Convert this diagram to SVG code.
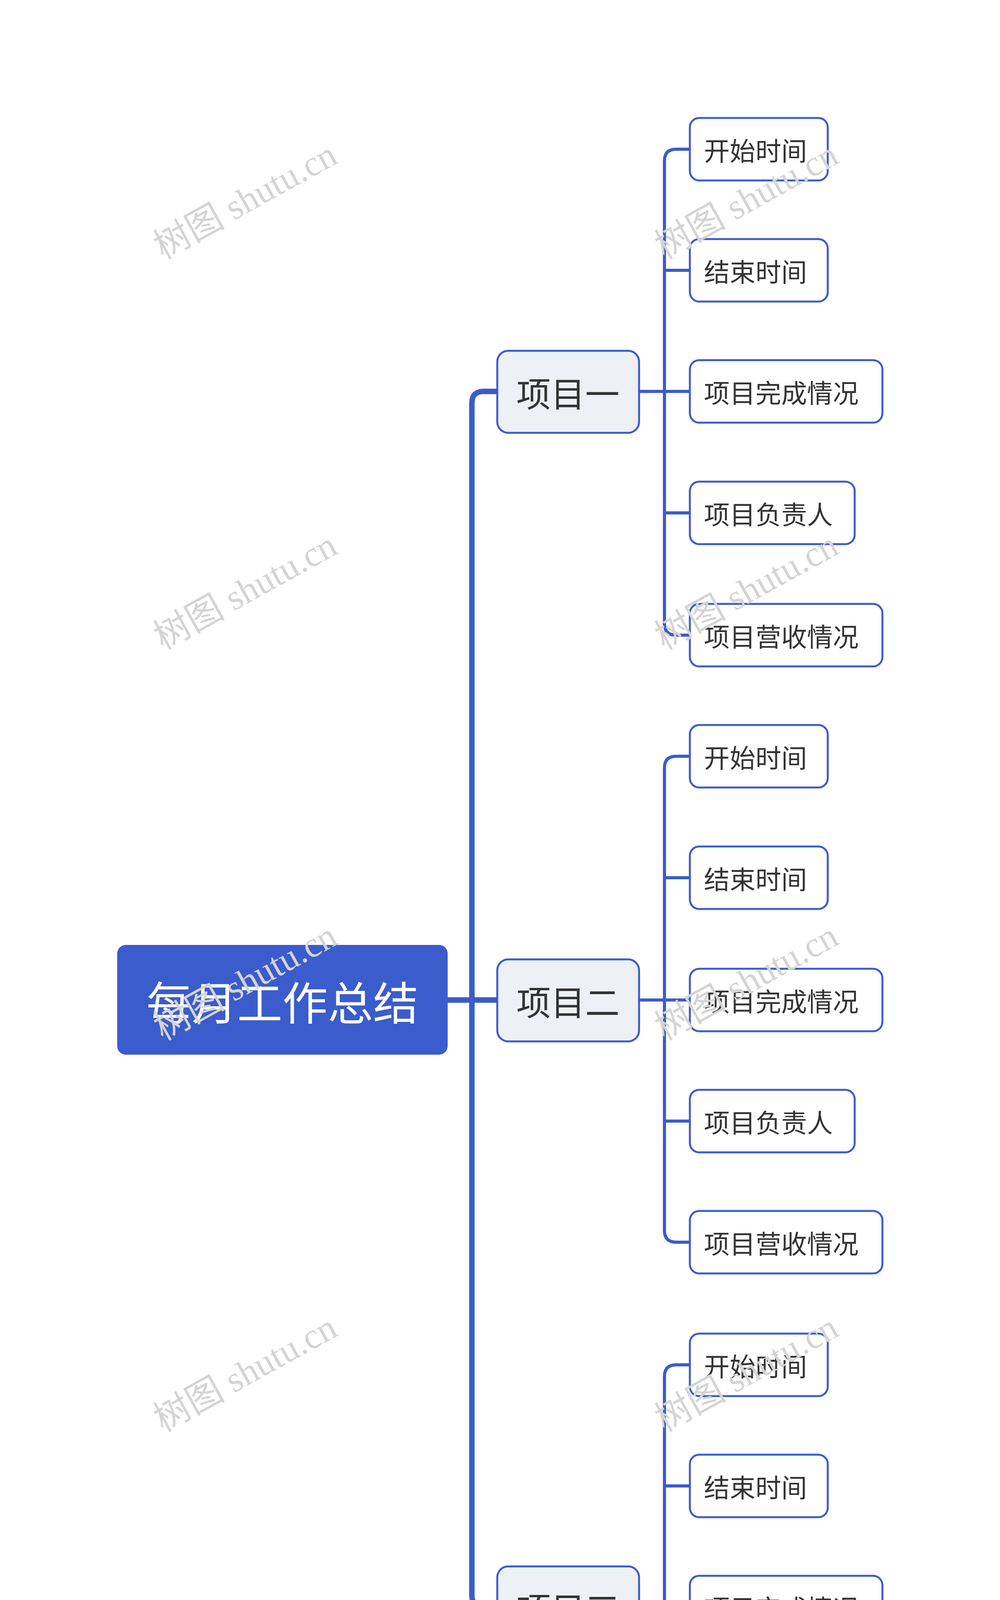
<svg xmlns="http://www.w3.org/2000/svg" width="2560" height="5120" viewBox="0 0 2560 5120">
<style>
.wm{font-family:"Liberation Serif","Noto Sans CJK SC",serif;font-size:92px;fill:#d4d4d4}
.root rect{fill:#3b5ccc}
.root text{font-family:"Noto Sans CJK SC",sans-serif;font-size:116px;fill:#fff;text-anchor:middle;dominant-baseline:central}
.l1 rect{fill:#edf1f5;stroke:#3b5ccc;stroke-width:5}
.l1 text{font-family:"Noto Sans CJK SC",sans-serif;font-size:88px;fill:#333;text-anchor:middle;dominant-baseline:central}
.l2 rect{fill:#fff;stroke:#3b5ccc;stroke-width:5}
.l2 text{font-family:"Noto Sans CJK SC",sans-serif;font-size:66px;fill:#333;dominant-baseline:central}
.c{fill:none;stroke:#3b5ccc;stroke-linecap:round}
</style>
<rect width="2560" height="5120" fill="#fff"/>
<g id="connectors">
<path class="c" stroke-width="14" d="M1146 2560H1273M1273 1002H1238Q1208 1002 1208 1032V4084Q1208 4114 1238 4114H1273"/>
<path class="c" stroke-width="8" d="M1636 1002H1766M1766 382H1731Q1701 382 1701 412V1596Q1701 1626 1731 1626H1766M1701 692H1766M1701 1313H1766"/>
<path class="c" stroke-width="8" d="M1636 2560H1766M1766 1936H1731Q1701 1936 1701 1966V3150Q1701 3180 1731 3180H1766M1701 2247H1766M1701 2870H1766"/>
<path class="c" stroke-width="8" d="M1636 4114H1766M1766 3494H1731Q1701 3494 1701 3524V4708Q1701 4738 1731 4738H1766M1701 3804H1766M1701 4424H1766"/>
</g>
<g id="root" class="root"><rect x="300" y="2419" width="846" height="281" rx="22"/><text x="723" y="2560">每月工作总结</text></g>
<g id="p1" class="l1"><rect x="1273" y="898" width="363" height="210" rx="28"/><text x="1454" y="1002">项目一</text></g>
<g id="p2" class="l1"><rect x="1273" y="2456" width="363" height="210" rx="28"/><text x="1454" y="2560">项目二</text></g>
<g id="p3" class="l1"><rect x="1273" y="4010" width="363" height="210" rx="28"/><text x="1454" y="4114">项目三</text></g>
<g id="p1a" class="l2"><rect x="1766" y="302" width="353" height="160" rx="24"/><text x="1802" y="382">开始时间</text></g>
<g id="p1b" class="l2"><rect x="1766" y="612" width="353" height="160" rx="24"/><text x="1802" y="692">结束时间</text></g>
<g id="p1c" class="l2"><rect x="1766" y="922" width="493" height="160" rx="24"/><text x="1802" y="1002">项目完成情况</text></g>
<g id="p1d" class="l2"><rect x="1766" y="1233" width="422" height="160" rx="24"/><text x="1802" y="1313">项目负责人</text></g>
<g id="p1e" class="l2"><rect x="1766" y="1546" width="493" height="160" rx="24"/><text x="1802" y="1626">项目营收情况</text></g>
<g id="p2a" class="l2"><rect x="1766" y="1856" width="353" height="160" rx="24"/><text x="1802" y="1936">开始时间</text></g>
<g id="p2b" class="l2"><rect x="1766" y="2167" width="353" height="160" rx="24"/><text x="1802" y="2247">结束时间</text></g>
<g id="p2c" class="l2"><rect x="1766" y="2480" width="493" height="160" rx="24"/><text x="1802" y="2560">项目完成情况</text></g>
<g id="p2d" class="l2"><rect x="1766" y="2790" width="422" height="160" rx="24"/><text x="1802" y="2870">项目负责人</text></g>
<g id="p2e" class="l2"><rect x="1766" y="3100" width="493" height="160" rx="24"/><text x="1802" y="3180">项目营收情况</text></g>
<g id="p3a" class="l2"><rect x="1766" y="3414" width="353" height="160" rx="24"/><text x="1802" y="3494">开始时间</text></g>
<g id="p3b" class="l2"><rect x="1766" y="3724" width="353" height="160" rx="24"/><text x="1802" y="3804">结束时间</text></g>
<g id="p3c" class="l2"><rect x="1766" y="4034" width="493" height="160" rx="24"/><text x="1802" y="4114">项目完成情况</text></g>
<g id="p3d" class="l2"><rect x="1766" y="4344" width="422" height="160" rx="24"/><text x="1802" y="4424">项目负责人</text></g>
<g id="p3e" class="l2"><rect x="1766" y="4658" width="493" height="160" rx="24"/><text x="1802" y="4738">项目营收情况</text></g>
<g id="watermarks" class="wm" text-anchor="middle">
<text transform="translate(643,540) rotate(-29)">树图 shutu.cn</text>
<text transform="translate(1926,540) rotate(-29)">树图 shutu.cn</text>
<text transform="translate(643,1540) rotate(-29)">树图 shutu.cn</text>
<text transform="translate(1926,1540) rotate(-29)">树图 shutu.cn</text>
<text transform="translate(643,2540) rotate(-29)">树图 shutu.cn</text>
<text transform="translate(1926,2540) rotate(-29)">树图 shutu.cn</text>
<text transform="translate(643,3542) rotate(-29)">树图 shutu.cn</text>
<text transform="translate(1926,3542) rotate(-29)">树图 shutu.cn</text>
<text transform="translate(643,4544) rotate(-29)">树图 shutu.cn</text>
<text transform="translate(1926,4544) rotate(-29)">树图 shutu.cn</text>
</g>
</svg>
